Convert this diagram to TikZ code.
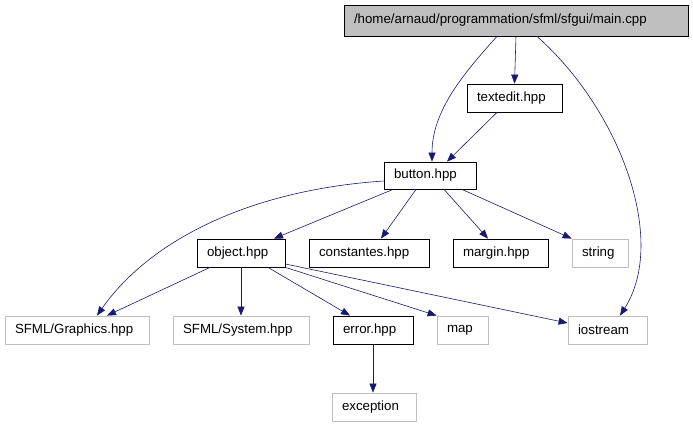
\documentclass[tikz,border=0pt]{standalone}
\usepackage{fontspec}
\setmainfont{Liberation Sans}
\usetikzlibrary{arrows.meta}
\definecolor{edgec}{HTML}{191970}
\definecolor{grayb}{HTML}{BFBFBF}
\begin{document}
\begin{tikzpicture}[x=1pt,y=-1pt,
  box/.style={draw=black,line width=0.8pt,minimum height=28pt,inner ysep=0pt,inner xsep=10pt,
    text width=#1,align=left,font=\fontsize{13.3}{15}\selectfont},
  gbox/.style={box=#1,draw=grayb},
  edge/.style={draw=edgec,line width=0.6pt,-{Triangle[length=9pt,width=7pt]}}]
\useasboundingbox (0,0) rectangle (693,427);
\node[box=324pt,fill=grayb,minimum height=31pt] (main) at (516,20.5) {\mbox{/home/arnaud/programmation/sfml/sfgui/main.cpp}};
\node[box=75pt] (textedit) at (514.5,98) {\mbox{textedit.hpp}};
\node[box=72pt,minimum height=27pt] (button) at (430,175.5) {\mbox{button.hpp}};
\node[box=68pt] (object) at (241,253) {\mbox{object.hpp}};
\node[box=100pt] (constantes) at (369,253) {\mbox{constantes.hpp}};
\node[box=75pt] (margin) at (500.5,253) {\mbox{margin.hpp}};
\node[gbox=36pt] (string) at (600,253) {\mbox{string}};
\node[gbox=124pt] (graphics) at (77,330) {\mbox{SFML/Graphics.hpp}};
\node[gbox=116pt] (system) at (241,330) {\mbox{SFML/System.hpp}};
\node[box=60pt] (error) at (373,330) {\mbox{error.hpp}};
\node[gbox=31pt] (map) at (462.5,330) {\mbox{map}};
\node[gbox=59pt] (iostream) at (607.5,330) {\mbox{iostream}};
\node[gbox=64pt] (exception) at (374,407) {\mbox{exception}};

\draw[edge] (main.south) -- (textedit.north);
\draw[edge] ([xshift=-19pt]main.south) .. controls (465,72) and (432,110) .. ([xshift=2pt]button.north);
\draw[edge] ([xshift=21pt]main.south) .. controls (620,110) and (668,240) .. ([xshift=12.5pt]iostream.north);
\draw[edge] ([xshift=-17.5pt]textedit.south) -- ([xshift=17pt]button.north);
\draw[edge] ([yshift=-5.5pt]button.west) .. controls (250,190) and (150,240) .. ([xshift=20pt]graphics.north);
\draw[edge] ([xshift=-37pt]button.south) -- ([xshift=33pt]object.north);
\draw[edge] ([xshift=-14pt]button.south) -- ([xshift=12pt]constantes.north);
\draw[edge] ([xshift=14pt]button.south) -- ([xshift=-12.5pt]margin.north);
\draw[edge] ([xshift=32pt]button.south) -- (string.north west);
\draw[edge] ([xshift=-31pt]object.south) -- ([xshift=30pt]graphics.north);
\draw[edge] (object.south) -- (system.north);
\draw[edge] ([xshift=27pt]object.south) -- ([xshift=-23pt]error.north);
\draw[edge] (object.south east) -- (map.north west);
\draw[edge] ([yshift=-11pt]object.east) -- ([yshift=7pt]iostream.west);
\draw[edge] (error.south) -- (exception.north -| error.south);
\end{tikzpicture}
\end{document}
